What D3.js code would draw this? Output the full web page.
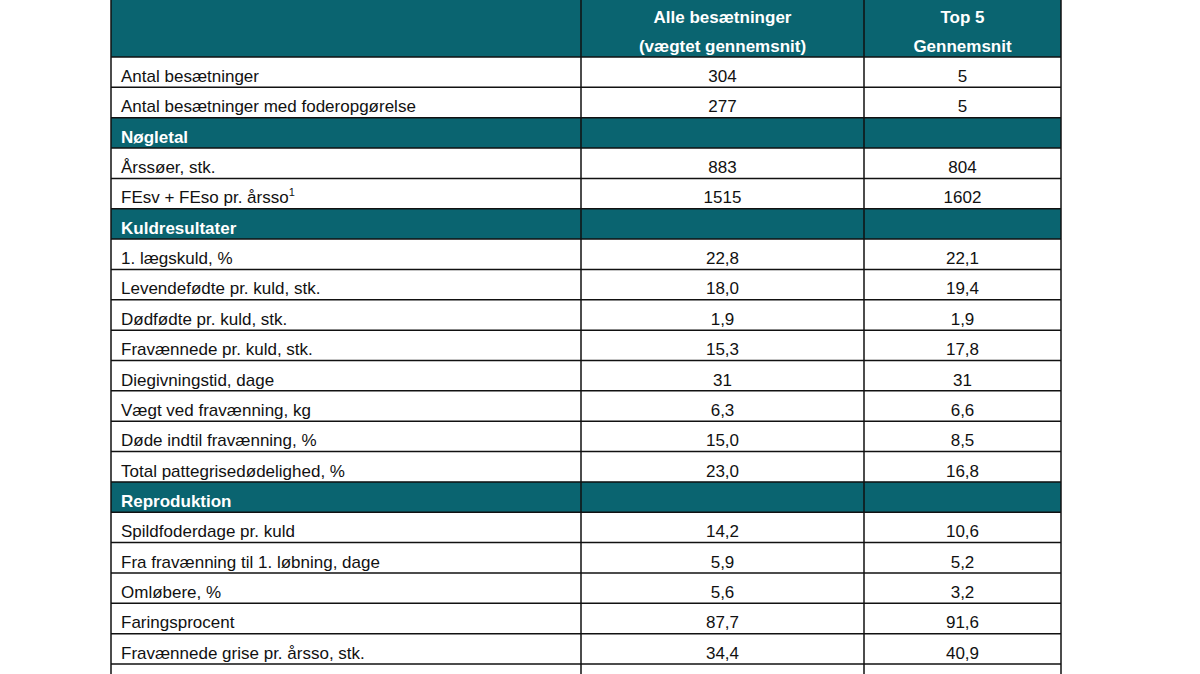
<!DOCTYPE html>
<html lang="da">
<head>
  <meta charset="utf-8" />
  <title>Besætninger – nøgletal</title>
  <style>
    body { margin: 0; background: #fff; }
    svg text { font-family: "Liberation Sans", Arial, sans-serif; font-size: 17px; }
  </style>
</head>
<body>
  <svg id="chart" width="1200" height="674"></svg>
  <script src="https://cdn.jsdelivr.net/npm/d3@7"></script>
  <script>
    // table content
    const headers = [["Alle besætninger", "(vægtet gennemsnit)"], ["Top 5", "Gennemsnit"]];
    const labels = [
      "Antal besætninger", "Antal besætninger med foderopgørelse", "Nøgletal",
      "Årssøer, stk.", "FEsv + FEso pr. årsso", "Kuldresultater",
      "1. lægskuld, %", "Levendefødte pr. kuld, stk.", "Dødfødte pr. kuld, stk.",
      "Fravænnede pr. kuld, stk.", "Diegivningstid, dage", "Vægt ved fravænning, kg",
      "Døde indtil fravænning, %", "Total pattegrisedødelighed, %", "Reproduktion",
      "Spildfoderdage pr. kuld", "Fra fravænning til 1. løbning, dage", "Omløbere, %",
      "Faringsprocent", "Fravænnede grise pr. årsso, stk.", ""
    ];
    const allHerds = ["304", "277", null, "883", "1515", null, "22,8", "18,0", "1,9", "15,3", "31", "6,3", "15,0", "23,0", null, "14,2", "5,9", "5,6", "87,7", "34,4", ""];
    const top5 = ["5", "5", null, "804", "1602", null, "22,1", "19,4", "1,9", "17,8", "31", "6,6", "8,5", "16,8", null, "10,6", "5,2", "3,2", "91,6", "40,9", ""];
    const sections = ["Nøgletal", "Kuldresultater", "Reproduktion"];

    const teal = "#0a6470";
    const svg = d3.select("#chart");
    const colEdges = [111, 581, 864, 1061];
    const headH = 57, rowH = 30.35;

    const y = d3.scaleBand().domain(d3.range(labels.length))
      .range([headH, headH + rowH * labels.length]);

    // header
    svg.append("rect").attr("x", colEdges[0]).attr("y", -2)
      .attr("width", colEdges[3] - colEdges[0]).attr("height", headH + 2).attr("fill", teal);
    headers.forEach((h, i) => {
      const cx = (colEdges[i + 1] + colEdges[i + 2]) / 2;
      h.forEach((line, j) => {
        svg.append("text").attr("x", cx).attr("y", 23 + j * 29)
          .attr("text-anchor", "middle").attr("fill", "#fff").attr("font-weight", "bold")
          .text(line);
      });
    });

    const rows = svg.selectAll("g.row").data(labels).enter().append("g")
      .attr("class", "row").attr("transform", (d, i) => `translate(0,${y(i)})`);

    rows.append("rect").attr("x", colEdges[0]).attr("width", colEdges[3] - colEdges[0])
      .attr("height", y.bandwidth())
      .attr("fill", d => sections.includes(d) ? teal : "#fff");

    rows.append("text").attr("x", colEdges[0] + 10).attr("y", 25)
      .attr("fill", d => sections.includes(d) ? "#fff" : "#111")
      .attr("font-weight", d => sections.includes(d) ? "bold" : "normal")
      .each(function (d) {
        const t = d3.select(this);
        if (d.startsWith("FEsv")) {
          t.text(d);
          t.append("tspan").attr("font-size", 11).attr("dy", -7).text("1");
        } else t.text(d);
      });

    [allHerds, top5].forEach((vals, c) => {
      rows.append("text").attr("x", (colEdges[c + 1] + colEdges[c + 2]) / 2).attr("y", 25)
        .attr("text-anchor", "middle").attr("fill", "#111")
        .text((d, i) => vals[i] || "");
    });

    // grid lines
    const bottom = y.range()[1];
    y.domain().forEach(i => {
      svg.append("line").attr("x1", colEdges[0]).attr("x2", colEdges[3])
        .attr("y1", y(i)).attr("y2", y(i)).attr("stroke", "#111").attr("stroke-width", 1.5);
    });
    colEdges.forEach(x => {
      svg.append("line").attr("x1", x).attr("x2", x).attr("y1", 0).attr("y2", bottom)
        .attr("stroke", "#111").attr("stroke-width", 1.5);
    });
  </script>
</body>
</html>
